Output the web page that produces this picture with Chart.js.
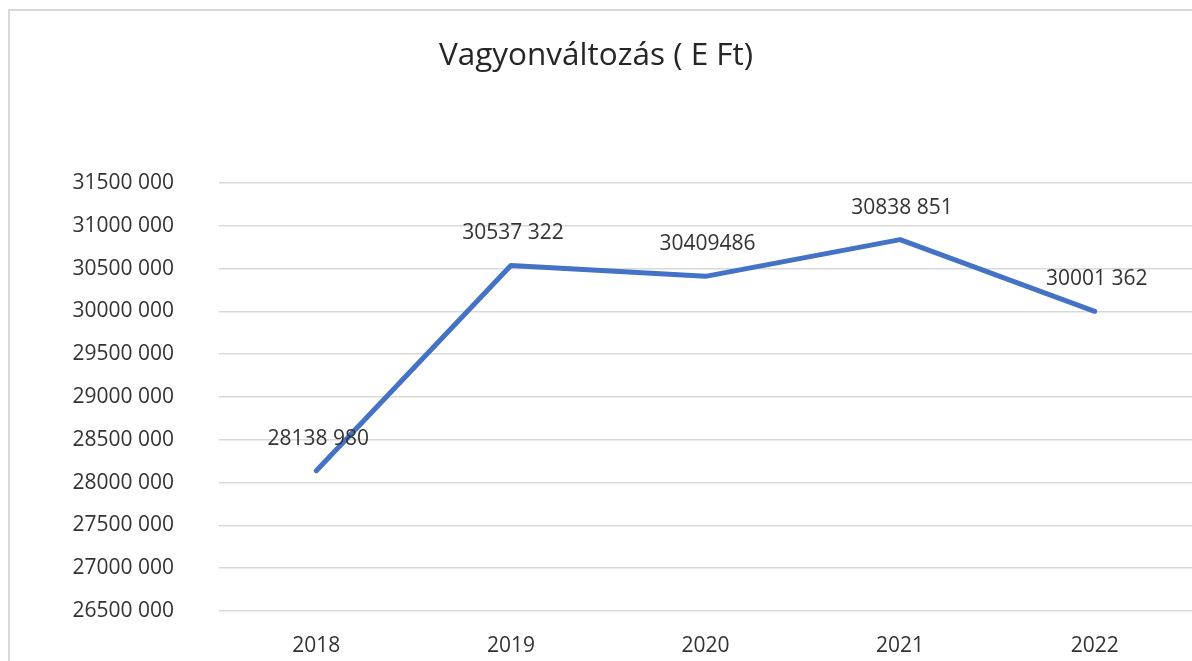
<!DOCTYPE html>
<html lang="hu">
<head>
<meta charset="utf-8">
<title>Vagyonváltozás</title>
<script src="https://cdn.jsdelivr.net/npm/chart.js@4.4.0/dist/chart.umd.min.js"></script>
<style>
    html, body { margin: 0; padding: 0; background: #ffffff; overflow: hidden; }
    .frame {
        position: absolute; left: 8px; top: 9px;
        width: 1220px; height: 700px;
        border: 2px solid #d9d9d9;
    }
    .wrap { position: absolute; left: 0; top: 0; width: 1192px; height: 661px; }
</style>
</head>
<body>
<div class="frame"></div>
<div class="wrap"><canvas id="vagyon-chart"></canvas></div>
<script>
(function() {
    'use strict';

    const years = ['2018', '2019', '2020', '2021', '2022'];
    const vagyon = [28138980, 30537322, 30409486, 30838851, 30001362];
    // cimkek ugy, ahogy a kepen allnak
    const vagyonLabels = ['28138 980', '30537 322', '30409486', '30838 851', '30001 362'];
    const yMin = 26500000;
    const yMax = 31500000;
    const yStep = 500000;

    const FONT = '"Open Sans", "DejaVu Sans", sans-serif';
    const TEXT = '#333333';

    function formatTick(value) {
        const s = String(value);
        return s.slice(0, -3) + ' ' + s.slice(-3);
    }

    const pointLabels = {
        id: 'pointLabels',
        afterDatasetsDraw(chart) {
            const ctx = chart.ctx;
            const meta = chart.getDatasetMeta(0);
            ctx.save();
            ctx.font = '21px ' + FONT;
            ctx.fillStyle = TEXT;
            ctx.textAlign = 'center';
            ctx.textBaseline = 'middle';
            meta.data.forEach((pt, i) => {
                ctx.fillText(vagyonLabels[i], pt.x + 2, pt.y - 32);
            });
            ctx.restore();
        }
    };

    function initChart() {
        const canvas = document.getElementById('vagyon-chart');
        if (!canvas) return;

        new Chart(canvas, {
            type: 'line',
            data: {
                labels: years,
                datasets: [{
                    label: 'Vagyonváltozás',
                    data: vagyon,
                    borderColor: '#4472C4',
                    backgroundColor: '#4472C4',
                    borderWidth: 5,
                    borderCapStyle: 'round',
                    borderJoinStyle: 'round',
                    tension: 0,
                    pointRadius: 0,
                    fill: false,
                }],
            },
            options: {
                responsive: true,
                maintainAspectRatio: false,
                animation: false,
                layout: { padding: 0 },
                plugins: {
                    legend: { display: false },
                    tooltip: { enabled: false },
                    title: {
                        display: true,
                        text: 'Vagyonváltozás ( E Ft)',
                        color: '#262626',
                        font: { family: FONT, size: 31.5, weight: 'normal' },
                        padding: { top: 37, bottom: 108.2 },
                    },
                },
                scales: {
                    x: {
                        offset: true,
                        grid: { display: false },
                        border: { display: false },
                        ticks: {
                            color: TEXT,
                            font: { family: FONT, size: 21 },
                            padding: 14,
                        },
                        afterFit(scale) { scale.height = 50; },
                    },
                    y: {
                        min: yMin,
                        max: yMax,
                        border: { display: false },
                        grid: { color: '#d9d9d9', lineWidth: 1.5, drawTicks: false },
                        ticks: {
                            stepSize: yStep,
                            color: TEXT,
                            font: { family: FONT, size: 21 },
                            padding: 45,
                            callback: formatTick,
                        },
                        afterFit(scale) {
                            // a ticks.padding ne tolja fel a rajzterulet aljat
                            scale.width = 219;
                            scale.paddingTop = 0;
                            scale.paddingBottom = 0;
                        },
                    },
                },
            },
            plugins: [pointLabels],
        });
    }

    if (document.readyState === 'loading') {
        document.addEventListener('DOMContentLoaded', initChart);
    } else {
        initChart();
    }
})();
</script>
</body>
</html>
